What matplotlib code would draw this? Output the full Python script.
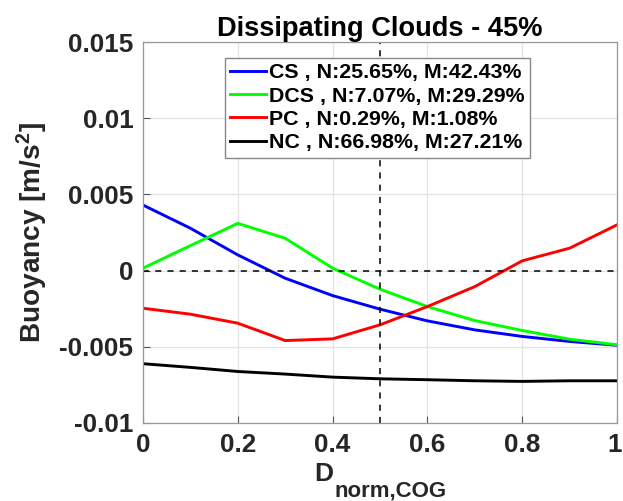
import matplotlib
matplotlib.use("Agg")
import matplotlib.pyplot as plt
from matplotlib.transforms import ScaledTranslation

x = [0, 0.1, 0.2, 0.3, 0.4, 0.5, 0.6, 0.7, 0.8, 0.9, 1.0]
cs = [0.0043, 0.00278, 0.00103, -0.0005, -0.00164, -0.00253, -0.0033, -0.00389, -0.00432, -0.00465, -0.0049]
dcs = [0.00016, 0.00164, 0.0031, 0.00212, 0.00016, -0.00122, -0.00236, -0.00328, -0.00393, -0.0045, -0.00487]
pc = [-0.00247, -0.00286, -0.00345, -0.00459, -0.00448, -0.00356, -0.00236, -0.00105, 0.00064, 0.00147, 0.003]
nc = [-0.00611, -0.00635, -0.00662, -0.00679, -0.00699, -0.0071, -0.00716, -0.00723, -0.00727, -0.00723, -0.00723]
labels = ["CS , N:25.65%, M:42.43%", "DCS , N:7.07%, M:29.29%",
          "PC , N:0.29%, M:1.08%", "NC , N:66.98%, M:27.21%"]
colors = ["#0000ff", "#00ff00", "#ff0000", "#000000"]
xticks = [0, 0.2, 0.4, 0.6, 0.8, 1]
yticks = [-0.01, -0.005, 0, 0.005, 0.01, 0.015]
yticklabels = ["-0.01", "-0.005", "0", "0.005", "0.01", "0.015"]

plt.rcParams['font.family'] = ['Liberation Sans', 'DejaVu Sans']
plt.rcParams['mathtext.fontset'] = 'custom'
plt.rcParams['mathtext.rm'] = 'Liberation Sans:bold'
plt.rcParams['mathtext.it'] = 'Liberation Sans:bold'
plt.rcParams['mathtext.bf'] = 'Liberation Sans:bold'

W, H = 623, 501
fig = plt.figure(figsize=(W / 100, H / 100), dpi=100)
ax = fig.add_axes([143 / W, 1 - 423 / H, 474 / W, 381 / H])

for ys, lab, c in zip([cs, dcs, pc, nc], labels, colors):
    ax.plot(x, ys, color=c, lw=2.1, label=lab)

ax.axvline(0.5, color='black', ls=(0, (4, 4)), lw=1.1)
ax.axhline(0, color='black', ls=(0, (4, 4)), lw=1.1)

ax.set_xlim(0, 1)
ax.set_ylim(-0.01, 0.015)
ax.set_xticks(xticks)
ax.set_xticklabels([f"{t:g}" for t in xticks])
ax.set_yticks(yticks)
ax.set_yticklabels(yticklabels)
ax.grid(True, color='#e3e3e3', lw=0.9)
ax.set_axisbelow(True)
ax.tick_params(direction='in', length=5, width=0.8, color='#555555', labelsize=18.8, pad=7)
for lab in ax.get_xticklabels() + ax.get_yticklabels():
    lab.set_fontweight('bold')
    lab.set_color('#262626')
last = ax.get_xticklabels()[-1]
last.set_transform(last.get_transform() + ScaledTranslation(-2 / 100, 0, fig.dpi_scale_trans))
for s in ax.spines.values():
    s.set_color('#999999')
    s.set_linewidth(0.9)

ax.set_title("Dissipating Clouds - 45%", fontsize=19.6, fontweight='bold', pad=4.5)
ax.set_ylabel(r"Buoyancy [m/s$^2$]", fontsize=20.2, fontweight='bold', color='#262626', labelpad=7)

# x label with a large MATLAB-style subscript
fig.text(333 / W, 1 - 481 / H, "D", fontsize=19, fontweight='bold', color='#262626',
         ha='right', va='baseline')
fig.text(335 / W, 1 - 496 / H, "norm,COG", fontsize=16, fontweight='bold', color='#262626',
         ha='left', va='baseline')

leg = ax.legend(loc='upper left', bbox_to_anchor=((225 - 143) / 474, (423 - 58) / 381),
                prop={'weight': 'bold', 'size': 15.4}, frameon=True, fancybox=False,
                handlelength=1.65, handletextpad=0.15, borderpad=0.25, labelspacing=0.2,
                borderaxespad=0)
leg.get_frame().set_edgecolor('#888888')
leg.get_frame().set_linewidth(1.0)
leg.get_frame().set_alpha(1)

fig.savefig("out.png", dpi=100)
